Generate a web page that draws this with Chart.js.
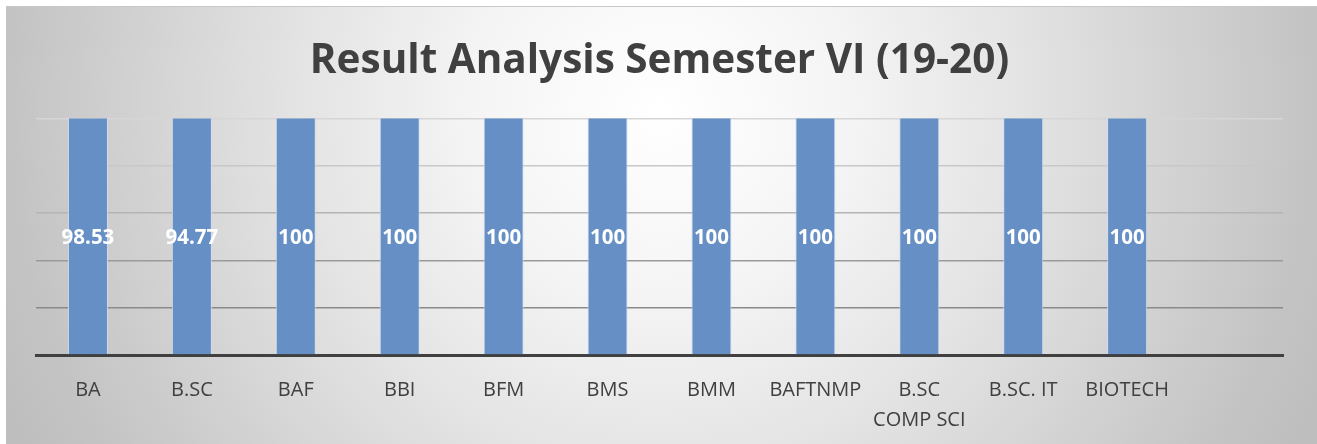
<!DOCTYPE html>
<html>
<head>
<meta charset="utf-8">
<script src="https://cdn.jsdelivr.net/npm/chart.js@4"></script>
<style>
    html, body { margin: 0; padding: 0; background: #ffffff; }
    #wrap { width: 1317px; height: 444px; }
</style>
</head>
<body>
<div id="wrap"><canvas id="chartCanvas" width="1317" height="444"></canvas></div>
<script>
const categories = ['BA', 'B.SC', 'BAF', 'BBI', 'BFM', 'BMS', 'BMM', 'BAFTNMP', ['B.SC', 'COMP SCI'], 'B.SC. IT', 'BIOTECH', ''];
const passPercent = [98.53, 94.77, 100, 100, 100, 100, 100, 100, 100, 100, 100, null];
const valueLabels = ['98.53', '94.77', '100', '100', '100', '100', '100', '100', '100', '100', '100', ''];

// gray-white-gray backdrop, like the office chart style
const backdrop = {
    id: 'backdrop',
    beforeDraw(chart) {
        const c = chart.ctx;
        c.save();
        const g = c.createRadialGradient(660, 110, 0, 660, 110, 720);
        g.addColorStop(0, '#ffffff');
        g.addColorStop(0.25, '#f5f5f5');
        g.addColorStop(0.5, '#e4e4e4');
        g.addColorStop(0.9, '#c4c4c4');
        g.addColorStop(1, '#bebebe');
        c.fillStyle = g;
        c.fillRect(6, 6, chart.width - 6, chart.height - 6);
        c.fillStyle = '#c8c8c8';
        c.fillRect(6, 6, chart.width - 6, 1);
        c.restore();
    }
};

// white numbers in the middle of the visible part of each bar
const barLabels = {
    id: 'barLabels',
    afterDatasetsDraw(chart) {
        const c = chart.ctx;
        const area = chart.chartArea;
        c.save();
        c.fillStyle = '#ffffff';
        c.font = 'bold 20.5px "Open Sans"';
        c.textAlign = 'center';
        c.textBaseline = 'middle';
        chart.getDatasetMeta(0).data.forEach((bar, i) => {
            if (!valueLabels[i]) return;
            const top = Math.max(bar.y, area.top);
            c.fillText(valueLabels[i], bar.x, (top + bar.base) / 2 + 2);
        });
        c.restore();
    }
};

const gridColors = ['#d6d6d6', '#c8c8c8', '#b4b4b4', '#9a9a9a', '#8a8a8a', 'rgba(0,0,0,0)'];

const ctx = document.getElementById('chartCanvas').getContext('2d');
const chart = new Chart(ctx, {
    type: 'bar',
    data: {
        labels: categories,
        datasets: [{
            label: 'Result',
            data: passPercent,
            backgroundColor: '#6690c5',
            borderColor: 'rgba(205,220,240,0.9)',
            borderWidth: 1,
            barPercentage: 0.385,
            categoryPercentage: 1
        }]
    },
    options: {
        responsive: false,
        animation: false,
        layout: {
            padding: { top: 6, left: 36, right: 34, bottom: -3 }
        },
        scales: {
            x: {
                grid: { display: false },
                border: { color: '#404040', width: 3 },
                ticks: {
                    color: '#404040',
                    padding: 12,
                    maxRotation: 0,
                    autoSkip: false,
                    font: { family: '"Open Sans"', size: 20, lineHeight: 1.5 }
                }
            },
            y: {
                min: 0,
                max: 50,
                ticks: { display: false, stepSize: 10 },
                border: { display: false },
                grid: {
                    drawTicks: false,
                    lineWidth: 1.5,
                    color: (g) => gridColors[5 - g.index] || '#aaaaaa'
                }
            }
        },
        plugins: {
            legend: { display: false },
            tooltip: { enabled: false },
            title: {
                display: true,
                text: 'Result Analysis Semester VI (19-20)',
                color: '#404040',
                padding: { top: 31, bottom: 33 },
                font: { family: '"Open Sans"', size: 40.5, weight: 'bold', lineHeight: 1.2 }
            }
        }
    },
    plugins: [backdrop, barLabels]
});
</script>
</body>
</html>
